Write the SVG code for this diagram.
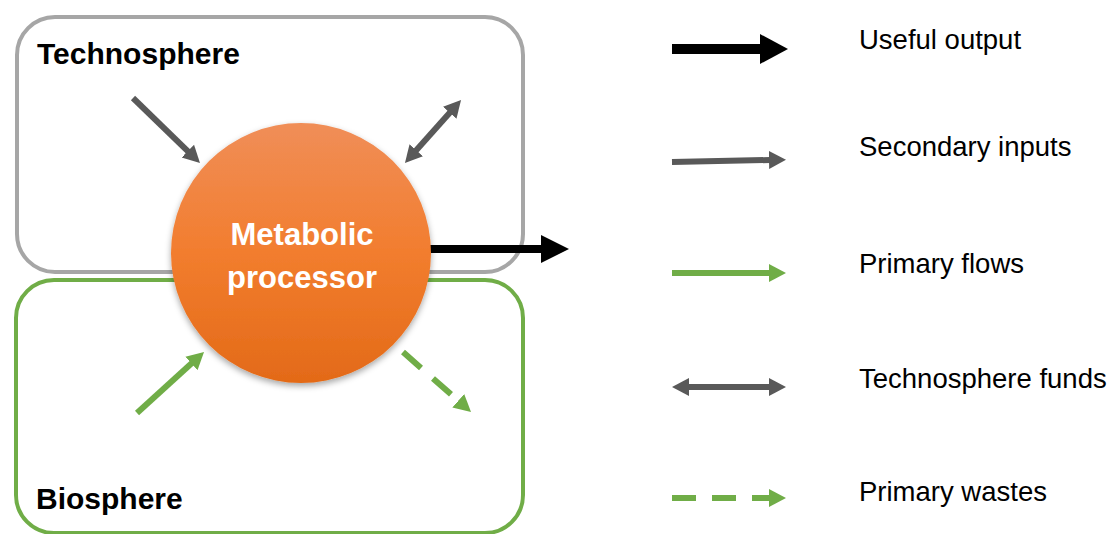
<svg xmlns="http://www.w3.org/2000/svg" width="1115" height="534" viewBox="0 0 1115 534">
  <style>
    .box { fill: #FFFFFF; stroke-width: 4; }
    .tech { stroke: #A6A6A6; }
    .bio { stroke: #70AD47; }
    .title { font-family: "Liberation Sans", Arial, sans-serif; font-weight: bold; font-size: 30px; fill: #000000; }
    .proc { font-family: "Liberation Sans", Arial, sans-serif; font-weight: bold; font-size: 31px; fill: #FFFFFF; text-anchor: middle; }
    .leg { font-family: "Liberation Sans", Arial, sans-serif; font-size: 27.5px; fill: #000000; }
    .gray { stroke: #595959; stroke-width: 6; fill: none; }
    .green { stroke: #70AD47; stroke-width: 6; fill: none; }
    .dash { stroke-dasharray: 24 16; }
  </style>
  <defs>
    <marker id="hg" markerUnits="userSpaceOnUse" viewBox="0 -10 18 20" markerWidth="18" markerHeight="20" refX="1" refY="0" orient="auto-start-reverse">
      <path d="M0,-9 L17,0 L0,9 Z" fill="#595959"/>
    </marker>
    <marker id="hn" markerUnits="userSpaceOnUse" viewBox="0 -10 18 20" markerWidth="18" markerHeight="20" refX="1" refY="0" orient="auto-start-reverse">
      <path d="M0,-9 L17,0 L0,9 Z" fill="#70AD47"/>
    </marker>
    <linearGradient id="og" x1="0" y1="0" x2="0" y2="1">
      <stop offset="0" stop-color="#F08E58"/>
      <stop offset="0.5" stop-color="#F27D2E"/>
      <stop offset="1" stop-color="#E36A18"/>
    </linearGradient>
    <filter id="sh" x="-20%" y="-20%" width="140%" height="140%">
      <feDropShadow dx="0" dy="3" stdDeviation="3" flood-color="#000000" flood-opacity="0.35"/>
    </filter>
  </defs>

  <g id="technosphere">
    <rect class="box tech" x="17" y="17" width="506" height="255" rx="38" ry="38"/>
    <text class="title" x="37" y="64">Technosphere</text>
  </g>
  <g id="biosphere">
    <rect class="box bio" x="16" y="280" width="507" height="253" rx="38" ry="38"/>
    <text class="title" x="36" y="509">Biosphere</text>
  </g>

  <g id="connectors">
    <line class="gray" x1="133" y1="98" x2="188.5" y2="151.8" marker-end="url(#hg)"/>
    <line class="gray" x1="415.6" y1="151" x2="450.4" y2="112" marker-start="url(#hg)" marker-end="url(#hg)"/>
    <line class="green" x1="137" y1="413" x2="192.2" y2="362.8" marker-end="url(#hn)"/>
    <line class="green dash" x1="403" y1="352" x2="459" y2="401.4" marker-end="url(#hn)"/>
    <line x1="425" y1="249" x2="542" y2="249" stroke="#000000" stroke-width="8"/>
    <polygon points="541,235 569,249 541,263" fill="#000000"/>
  </g>

  <g id="metabolic-processor">
    <circle cx="301" cy="253" r="130" fill="url(#og)" filter="url(#sh)"/>
    <text class="proc" x="302" y="245">Metabolic</text>
    <text class="proc" x="302" y="288">processor</text>
  </g>

  <g id="legend">
    <g id="legend-useful-output">
      <line x1="672" y1="49" x2="761" y2="49" stroke="#000000" stroke-width="10"/>
      <polygon points="760,34 788,49 760,64" fill="#000000"/>
      <text class="leg" x="859" y="49">Useful output</text>
    </g>
    <g id="legend-secondary-inputs">
      <line class="gray" x1="672" y1="162" x2="770" y2="160" marker-end="url(#hg)"/>
      <text class="leg" x="859" y="156">Secondary inputs</text>
    </g>
    <g id="legend-primary-flows">
      <line class="green" x1="672" y1="273" x2="770" y2="273" marker-end="url(#hn)"/>
      <text class="leg" x="859" y="273">Primary flows</text>
    </g>
    <g id="legend-technosphere-funds">
      <line class="gray" x1="688" y1="387" x2="770" y2="387" marker-start="url(#hg)" marker-end="url(#hg)"/>
      <text class="leg" x="859" y="388">Technosphere funds</text>
    </g>
    <g id="legend-primary-wastes">
      <line class="green dash" x1="672" y1="498" x2="770" y2="498" marker-end="url(#hn)"/>
      <text class="leg" x="859" y="501">Primary wastes</text>
    </g>
  </g>
</svg>
